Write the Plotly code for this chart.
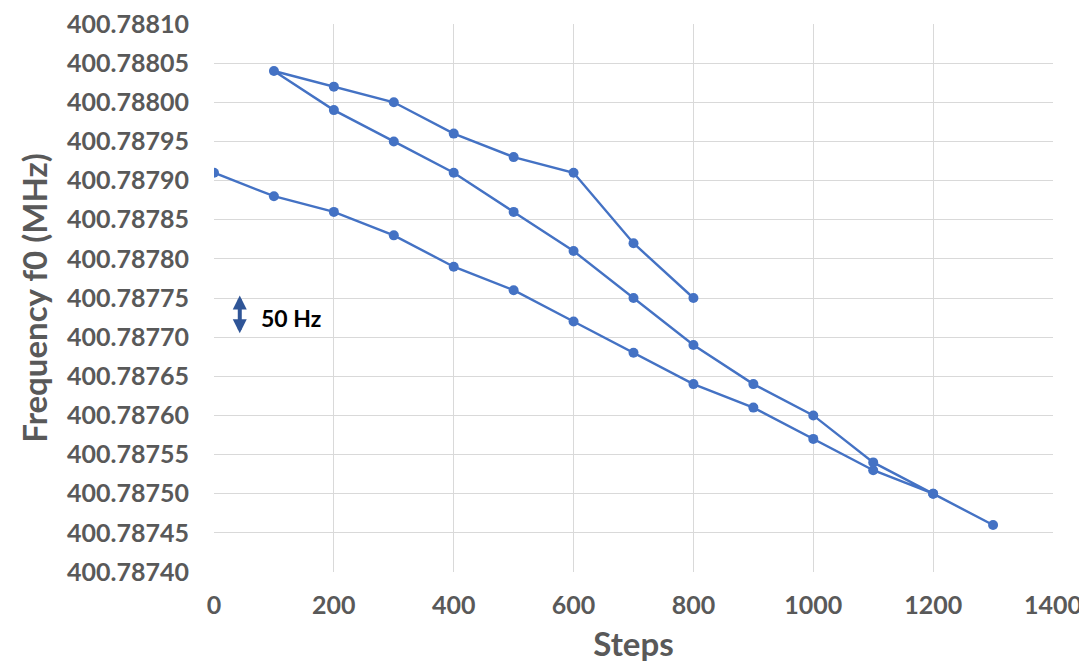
import plotly.graph_objects as go

# Data: one continuous measurement path (down, back up, then down again)
steps = [0, 100, 200, 300, 400, 500, 600, 700, 800, 900, 1000, 1100, 1200, 1300,
         1200, 1100, 1000, 900, 800, 700, 600, 500, 400, 300, 200, 100,
         200, 300, 400, 500, 600, 700, 800]
freq_mhz = [400.78791, 400.78788, 400.78786, 400.78783, 400.78779, 400.78776, 400.78772,
            400.78768, 400.78764, 400.78761, 400.78757, 400.78753, 400.78750, 400.78746,
            400.78750, 400.78754, 400.78760, 400.78764, 400.78769, 400.78775, 400.78781,
            400.78786, 400.78791, 400.78795, 400.78799, 400.78804,
            400.78802, 400.78800, 400.78796, 400.78793, 400.78791, 400.78782, 400.78775]

y_ticks = [400.78740 + 0.00005 * i for i in range(15)]
x_ticks = [0, 200, 400, 600, 800, 1000, 1200, 1400]

blue = "#4472C4"
grey_text = "#595959"
font_family = "Lato, 'Open Sans', sans-serif"

fig = go.Figure()
fig.add_trace(go.Scatter(
    x=steps, y=freq_mhz, mode="lines+markers",
    line=dict(color=blue, width=2.4),
    marker=dict(color=blue, size=10),
    showlegend=False, hoverinfo="x+y",
))

# 50 Hz scale arrow
fig.add_annotation(
    x=43, y=400.787705, ax=43, ay=400.787755, xref="x", yref="y", axref="x", ayref="y",
    showarrow=True, arrowhead=2, arrowside="end+start", arrowsize=0.7, arrowwidth=4,
    arrowcolor="#2F5597", text="",
)
fig.add_annotation(
    x=75, y=400.787724, xref="x", yref="y", text="<b>50 Hz</b>", showarrow=False,
    xanchor="left", yanchor="middle", font=dict(family=font_family, size=23, color="#000000"),
)

# page body has an 8px default margin, so the figure is sized/offset to compensate
fig.update_layout(
    width=1079, height=655,
    margin=dict(l=206, r=34, t=16, b=91),
    paper_bgcolor="white", plot_bgcolor="white",
    font=dict(family=font_family, color=grey_text),
)
fig.update_xaxes(
    range=[0, 1400], tickvals=x_ticks, showgrid=True, gridcolor="#D9D9D9", gridwidth=1,
    zeroline=False, showline=False, ticks="", ticklabelstandoff=16, automargin=False,
    ticklabeloverflow="allow",
    tickfont=dict(family=font_family, size=25, color=grey_text, weight="bold"),
    title=dict(text="<b>Steps</b>", font=dict(family=font_family, size=33, color=grey_text), standoff=15),
)
fig.update_yaxes(
    range=[400.78740, 400.78810], tickvals=y_ticks, tickformat=".5f",
    showgrid=True, gridcolor="#D9D9D9", gridwidth=1, zeroline=False, showline=False, ticks="",
    ticklabelstandoff=24, automargin=False, ticklabeloverflow="allow",
    tickfont=dict(family=font_family, size=25, color=grey_text, weight="bold"),
    title=dict(text="<b>Frequency f0 (MHz)</b>", font=dict(family=font_family, size=33, color=grey_text), standoff=9),
)

fig.write_html("out.html")
